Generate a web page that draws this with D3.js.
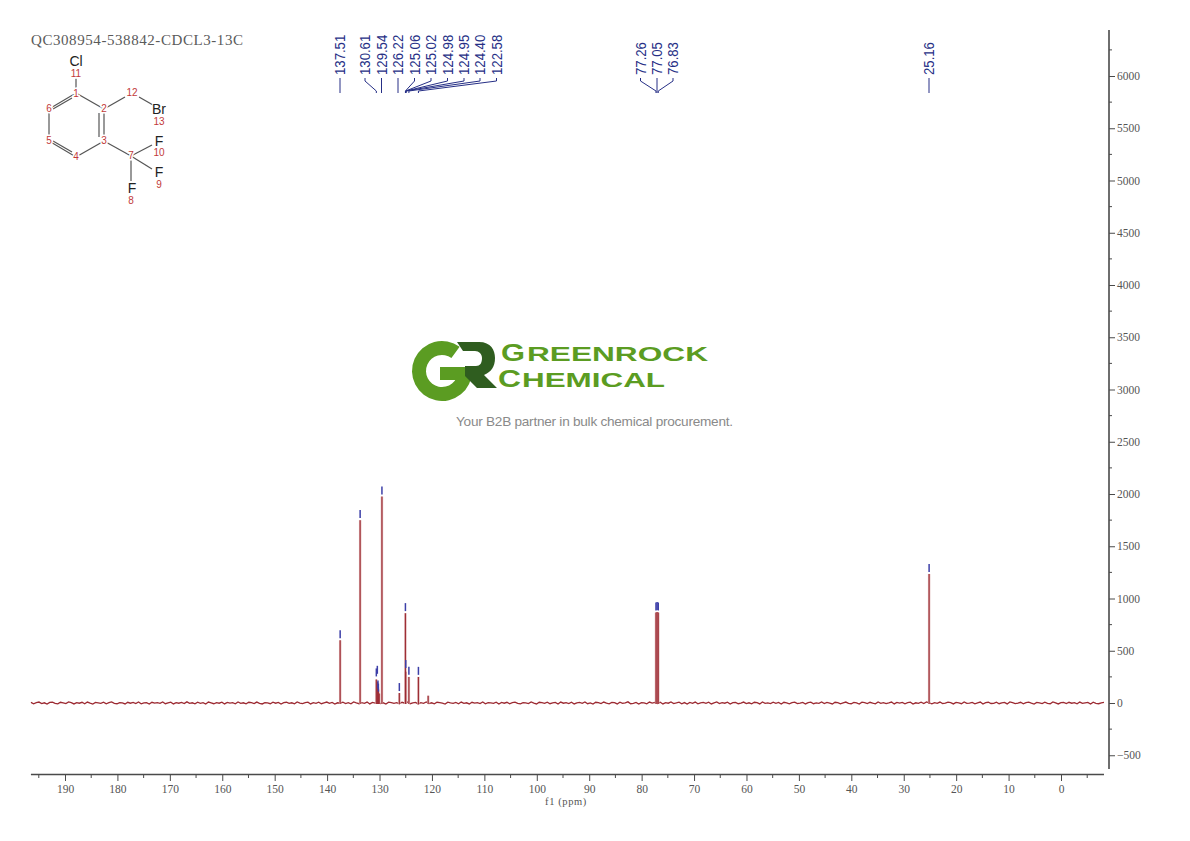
<!DOCTYPE html>
<html><head><meta charset="utf-8">
<script src="https://cdnjs.cloudflare.com/ajax/libs/d3/7.8.5/d3.min.js"></script>
<style>html,body{margin:0;padding:0;background:#fff}svg{display:block}</style></head>
<body><svg id="c" width="1190" height="841"></svg>
<script>
const titleText = "QC308954-538842-CDCL3-13C";
const peakPpm    = [137.51,133.7,130.61,130.42,130.3,130.22,130.05,129.54,126.22,125.06,125.00,124.40,122.58,120.72,77.26,77.05,76.83,25.16];
const peakHeight = [600,1750,225,200,150,130,90,1975,95,860,300,250,250,70,865,870,865,1235];
const markedPpm  = [137.51,133.7,130.61,130.42,130.3,130.22,129.54,126.22,125.06,125.0,124.40,122.58,77.26,77.05,76.83,25.16];
const markedTop  = [605,1755,240,265,125,95,1980,100,865,320,255,255,870,875,870,1240];
const labelTexts = ["137.51","130.61","129.54","126.22","125.06","125.02","124.98","124.95","124.40","122.58","77.26","77.05","76.83","25.16"];
const labelPpm   = [137.51,130.61,129.54,126.22,125.06,125.02,124.98,124.95,124.40,122.58,77.26,77.05,76.83,25.16];
const labelSlot  = [340,365,381.5,398,414.5,431,447.5,464,480,496.5,640.5,657,673,929];
const baselineA = [6,-7,3,9,-5,2,-10,6,8,-3,-8,7,1,-6,10,3,-9,4,-2,7,-7,9,-1,-10,5,2,-4,8,-8,3,11,-3,-7,4,1,-9,7,-2,5,-6,
 9,-8,2,4,-10,7,-1,3,-4,10,-7,1,8,-9,3,-2,5,-6,11,-4,2,-8,7,-3,4,-10,9,1,-7,3,-2,8,-9,5,-1,4,-7,10,-4,2,
 -8,7,3,-5,9,-3,-9,4,1,-7,8,-2,5,-10,3,7,-4,2,-8,10,-1,-6,4,8,-9,3,-3,7,-7,1,9,-4,5,-10,2,-2,8,-6,4,-8,
 10,1,-7,3,-3,9,-9,5,-1,7,-6,2,-10,8,4,-4,3,-8,7,-2,9,-7,1,5,-9,3,-3,10,-6,2,-8,7,4,-2,-10,8,1,-4,5,-7,
 9,-3,2,-9,7,-1,4,-6,10,-8,3,1,-4,8,-10,5,-2,7,-7,3,9,-3,-8,4,2,-6,10,-1,-9,7,3,-4,8,-7,1,5,-10,9,-2,4];
const baselineB = [-5,8,-9,2,6,-3,10,-7,1,-10,7,4,-6,9,-2,-8,5,3,-9,8,-4,1,11,-7,-3,6,-10,4,2,-8,9,-1,5,-6,7,-9,3,-2,10,-5,
 1,8,-7,4,-10,6,-3,9,-8,2,5,-4,7,-9,1,10,-6,3,-2,8,-10,4,6,-7,-1,9,-5,2,-8,7,3,-9,10,-4,1,-6,8,-3,5,-10,
 7,2,-8,4,9,-5,-1,6,-9,3,8,-7,1,-3,10,-6,5,-2,-9,7,4,-8,2,9,-4,-7,6,1,-10,8,3,-5,7,-2,-8,10,-3,4,-6,1,
 9,-9,5,-1,6,-7,3,8,-10,2,-4,7,-5,10,1,-8,4,-3,9,-6,-2,8,3,-9,5,1,-7,10,-4,-1,6,-8,2,9,-10,4,7,-5,-3,8,
 -7,1,5,-9,10,3,-6,-2,7,-8,4,9,-1,-10,6,2,-5,8,-3,-7,10,1,-9,4,5,-6,7,-2,3,-8,9,-4,1,6,-10,8,-3,-7,2,5];
const xTicks = d3.range(190,-1,-10);
const yTicks = d3.range(-500,6001,500);
const atomBonds = [[76,93,104,109],[104,109,104,141],[104,141,76,157],[76,157,49,141],[49,141,49,109],[49,109,76,93],
 [76,93,76,76],[104,109,125,97],[139,97,153,105],[104,141,131,156],[131,156,152,145],[131,156,152,169],[131,156,131,181]];
const atomDoubles = [[99,113,99,137],[72,152,53,141],[53,109,72,98]];
const blackLabels = [["Cl",76,66],["Br",159,114],["F",159,146],["F",159,177],["F",132,193]];
const redLabels = [["1",76,97],["2",104,112],["3",104,144],["4",76,160],["5",49,144],["6",49,112],["7",131,159],["8",131,204],["9",159,188],["10",159,156],["11",76,77],["12",132,96],["13",159,125]];

const svg = d3.select("#c");
const x = d3.scaleLinear().domain([190,0]).range([65,1061]);
const y = d3.scaleLinear().domain([0,6000]).range([703,76]);
const gridGrey = "#4a4a4a", ink = "#555", navy = "#262f86", wine = "#9c2a32";
const serif = "'Liberation Serif','DejaVu Serif',serif", sans = "'Liberation Sans',Arial,sans-serif";

// title
svg.append("text").attr("x",31).attr("y",45).attr("font-family",serif).attr("font-size",15).attr("fill","#5a5a5a")
  .attr("textLength",212).attr("lengthAdjust","spacing").text(titleText);

// molecule
svg.append("g").selectAll("line").data(atomBonds.concat(atomDoubles)).join("line")
  .attr("x1",d=>d[0]).attr("y1",d=>d[1]).attr("x2",d=>d[2]).attr("y2",d=>d[3])
  .attr("stroke","#555").attr("stroke-width",1.2);
svg.append("g").selectAll("text").data(blackLabels).join("text")
  .attr("x",d=>d[1]).attr("y",d=>d[2]).attr("text-anchor","middle").attr("font-family",sans).attr("font-size",14).attr("fill","#222").attr("paint-order","stroke").attr("stroke","#fff").attr("stroke-width",2).text(d=>d[0]);
svg.append("g").selectAll("text").data(redLabels).join("text")
  .attr("x",d=>d[1]).attr("y",d=>d[2]).attr("text-anchor","middle").attr("font-family",sans).attr("font-size",10).attr("fill","#c23a3a").attr("paint-order","stroke").attr("stroke","#fff").attr("stroke-width",3).text(d=>d[0]);

// axes
const xAxis = d3.axisBottom(d3.scaleLinear().domain([196.5,-8.2]).range([x(196.5),x(-8.2)])).tickValues(xTicks).tickFormat(d3.format("d")).tickSize(7).tickPadding(4);
const gx = svg.append("g").attr("transform","translate(0,774)").call(xAxis);
gx.select(".domain").attr("stroke",gridGrey).attr("stroke-width",1.3).attr("d",`M${x(196.5)},0.5H${x(-8.2)}`);
gx.selectAll("line").attr("stroke",gridGrey).attr("stroke-width",1);
gx.selectAll("text").attr("font-family",serif).attr("font-size",11.5).attr("fill",ink);
svg.append("g").attr("transform","translate(0,774)").selectAll("line").data(d3.range(195,-6,-10)).join("line")
  .attr("x1",d=>x(d)).attr("x2",d=>x(d)).attr("y1",0).attr("y2",4).attr("stroke",gridGrey);
svg.append("text").attr("x",566).attr("y",805).attr("text-anchor","middle").attr("font-family",serif).attr("font-size",10.5).attr("fill",ink).attr("letter-spacing",0.6).text("f1 (ppm)");

const yAxis = d3.axisRight(y).tickValues(yTicks).tickFormat(d=>d<0?"\u2212"+(-d):d).tickSize(6).tickPadding(2);
const gy = svg.append("g").attr("transform","translate(1109,0)").call(yAxis);
gy.select(".domain").attr("stroke",gridGrey).attr("stroke-width",1.6).attr("d","M0,30V769");
gy.selectAll("line").attr("stroke",gridGrey).attr("stroke-width",1);
gy.selectAll("text").attr("font-family",serif).attr("font-size",11.5).attr("fill",ink);
svg.append("g").attr("transform","translate(1109,0)").selectAll("line").data(d3.range(-250,6500,500)).join("line")
  .attr("x1",0).attr("x2",3).attr("y1",d=>y(d)).attr("y2",d=>y(d)).attr("stroke",gridGrey);

// spectrum baseline + peaks
const baseline = baselineA.concat(baselineB);
const line = d3.line().x(d=>d[0]).y(d=>y(d[1]));
const bStep = (196.5+8.2)/(baseline.length-1);
svg.append("path").attr("d",line(baseline.map((v,i)=>[x(196.5-i*bStep),v]))).attr("fill","none").attr("stroke",wine).attr("stroke-width",1.3);
const peaks = svg.append("g");
peaks.selectAll("line.halo").data(peakPpm).join("line").attr("class","halo")
  .attr("x1",d=>x(d)).attr("x2",d=>x(d)).attr("y1",y(0)+1)
  .attr("y2",(d,i)=>y(peakHeight[i])).attr("stroke","#dcb0b0").attr("stroke-width",2.4);
peaks.selectAll("line.core").data(peakPpm).join("line").attr("class","core")
  .attr("x1",d=>x(d)).attr("x2",d=>x(d)).attr("y1",y(0)+1)
  .attr("y2",(d,i)=>y(peakHeight[i])).attr("stroke",wine).attr("stroke-width",1.1);

// markers above peaks
const markerColour = "#3c3fa8";
svg.append("g").selectAll("line").data(markedPpm).join("line")
  .attr("x1",d=>x(d)).attr("x2",d=>x(d))
  .attr("y1",(d,i)=>y(markedTop[i])-1.5).attr("y2",(d,i)=>y(markedTop[i])-9.5)
  .attr("stroke",markerColour).attr("stroke-width",1.5);

// peak labels
const lab = svg.append("g");
lab.selectAll("text").data(labelTexts).join("text")
  .attr("transform",(d,i)=>`translate(${labelSlot[i]+5},75) rotate(-90) scale(0.94,1)`)
  .attr("font-family",sans).attr("font-size",14).attr("fill",navy).text(d=>d);
lab.selectAll("path").data(labelPpm).join("path")
  .attr("fill","none").attr("stroke",navy).attr("stroke-width",1)
  .attr("d",(d,i)=>{const s=labelSlot[i],p=x(d);return Math.abs(s-p)<1.5?`M${s},78V93`:`M${s},78V81L${p},91V93`;});

// logo
const logo = svg.append("g");
const green = "#5b9c22";
const arcG = d3.arc().innerRadius(16).outerRadius(30).startAngle(Math.PI*0.5).endAngle(Math.PI*2.2);
logo.append("path").attr("transform","translate(442,371)").attr("d",arcG()).attr("fill",green);
logo.append("rect").attr("x",440).attr("y",367).attr("width",32).attr("height",13).attr("fill",green);
logo.append("path").attr("fill","#2f5d1f").attr("d","M457,342H479C491,342 495,350 495,358C495,367 491,372 484,375L497,388H477L465,376V366H476C480,366 482,363 482,358C482,354 479,351 475,351H463Z");
const logoText = (s,xx,yy,fs,tl)=>logo.append("text").attr("x",xx).attr("y",yy).attr("font-family",sans).attr("font-weight","bold").attr("font-size",fs).attr("fill",green).attr("textLength",tl).attr("lengthAdjust","spacingAndGlyphs").text(s);
logoText("G",501,361,23.5,24);
logoText("REENROCK",527,361,21,181);
logoText("C",498,387,23.5,23);
logoText("HEMICAL",522,387,20,143);
svg.append("text").attr("x",456).attr("y",426).attr("font-family",sans).attr("font-size",13.6).attr("fill","#8a8a8a").attr("textLength",277).text("Your B2B partner in bulk chemical procurement.");
</script></body></html>
